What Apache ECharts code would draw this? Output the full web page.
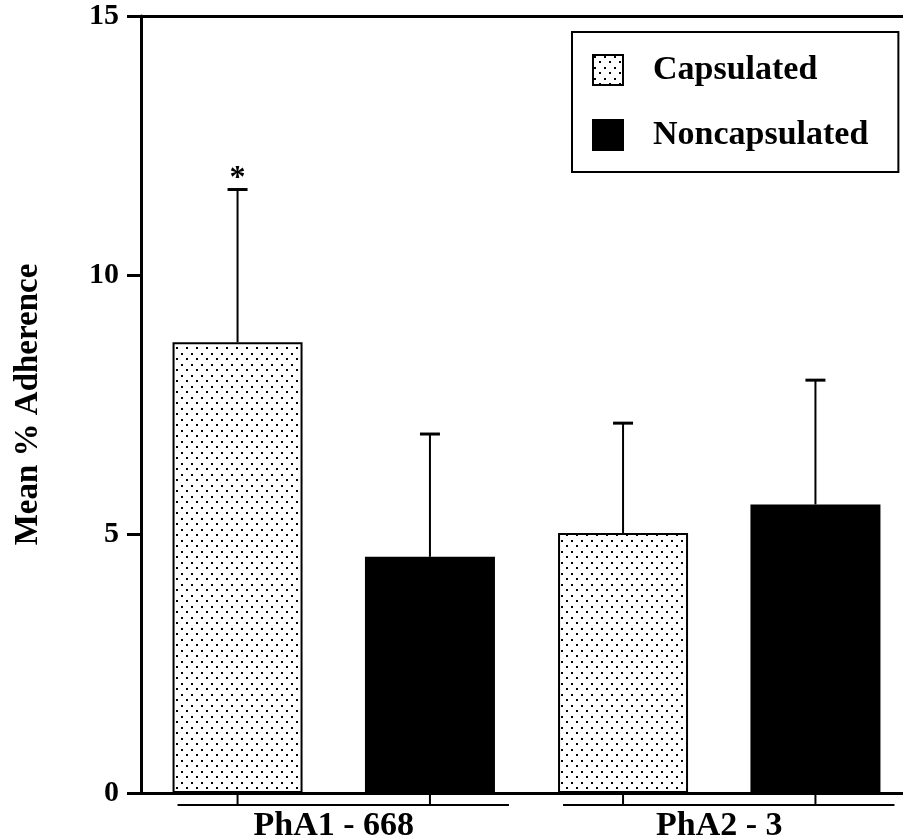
<!DOCTYPE html>
<html>
<head>
<meta charset="utf-8">
<script src="https://cdn.jsdelivr.net/npm/echarts@6/dist/echarts.min.js"></script>
<style>
  html, body { margin: 0; padding: 0; background: #fff; }
  #chart { width: 903px; height: 839px; }
</style>
</head>
<body>
<div id="chart"></div>
<script>
// Mean % adherence (+ SD) of capsulated vs noncapsulated variants of two strains
const strains = ['PhA1 - 668', 'PhA2 - 3'];
const capsulatedMean = [8.70, 5.02];
const capsulatedSD = [2.95, 2.12];
const noncapsulatedMean = [4.56, 5.57];
const noncapsulatedSD = [2.37, 2.40];
const capsulatedMarks = ['*', ''];
const noncapsulatedMarks = ['', ''];
const yMin = 0, yMax = 15, yStep = 5;

const SERIF = '"Liberation Serif", "Times New Roman", serif';
const BAR_W = 130;
const BAR_GAP = 0.48;

// stippled fill used for the capsulated bars
function stipple() {
  const c = document.createElement('canvas');
  c.width = 10; c.height = 11;
  const g = c.getContext('2d');
  g.fillStyle = '#fff';
  g.fillRect(0, 0, 10, 11);
  g.fillStyle = '#000';
  g.fillRect(1, 1, 2, 2);
  g.fillRect(6, 6, 2, 2);
  return c;
}

// horizontal offset of bar i from its category centre
function barOffset(i) {
  const total = 2 * BAR_W + BAR_GAP * BAR_W;
  return -total / 2 + BAR_W / 2 + i * BAR_W * (1 + BAR_GAP);
}

function errorSeries(mean, sd, marks, idx) {
  return {
    type: 'custom',
    z: 5,
    clip: false,
    silent: true,
    data: strains.map((s, k) => [k, mean[k], mean[k] + sd[k]]),
    renderItem(params, api) {
      const base = api.coord([api.value(0), api.value(1)]);
      const top = api.coord([api.value(0), api.value(2)]);
      const x = base[0] + barOffset(idx);
      const children = [
        { type: 'line', shape: { x1: x, y1: base[1], x2: x, y2: top[1] },
          style: { stroke: '#000', lineWidth: 2 } },
        { type: 'line', shape: { x1: x - 10, y1: top[1], x2: x + 10, y2: top[1] },
          style: { stroke: '#000', lineWidth: 3 } }
      ];
      const mark = marks[params.dataIndex];
      if (mark) {
        children.push({
          type: 'text',
          style: {
            x: x, y: top[1] - 11, text: mark,
            fill: '#000', align: 'center', verticalAlign: 'middle',
            font: 'bold 32px ' + SERIF
          }
        });
      }
      return { type: 'group', children };
    }
  };
}

// bracket under each strain with ticks at the bar centres
const bracketSeries = {
  type: 'custom',
  z: 4,
  clip: false,
  silent: true,
  data: strains.map((s, k) => [k, 0]),
  renderItem(params, api) {
    const p = api.coord([api.value(0), 0]);
    const y = p[1] + 12;
    const c0 = p[0] + barOffset(0);
    const c1 = p[0] + barOffset(1);
    const st = { stroke: '#000', lineWidth: 2 };
    return {
      type: 'group',
      children: [
        { type: 'line', shape: { x1: c0 - BAR_W / 2 + 5, y1: y, x2: c1 + BAR_W / 2 + 14, y2: y }, style: st },
        { type: 'line', shape: { x1: c0, y1: p[1], x2: c0, y2: y }, style: st },
        { type: 'line', shape: { x1: c1, y1: p[1], x2: c1, y2: y }, style: st }
      ]
    };
  }
};

const chart = echarts.init(document.getElementById('chart'), null, { renderer: 'canvas' });

chart.setOption({
  backgroundColor: '#fff',
  animation: false,
  grid: { left: 141, top: 16, width: 771, height: 777, outerBoundsMode: 'none', containLabel: false },
  legend: {
    data: ['Capsulated', 'Noncapsulated'],
    orient: 'vertical',
    left: 572,
    top: 32,
    itemWidth: 30,
    itemHeight: 30,
    itemGap: 31,
    icon: 'rect',
    selectedMode: false,
    borderColor: '#000',
    borderWidth: 2,
    padding: [21, 30, 20, 20],
    textStyle: {
      fontFamily: SERIF, fontWeight: 'bold', fontSize: 34, color: '#000',
      lineHeight: 22, padding: [0, 0, 12, 25]
    }
  },
  xAxis: [
    {
      type: 'category',
      data: strains,
      axisLine: { lineStyle: { color: '#000', width: 3 } },
      axisTick: { show: false },
      axisLabel: {
        color: '#000', fontFamily: SERIF, fontWeight: 'bold', fontSize: 34, margin: 16
      }
    },
    {
      type: 'category',
      data: strains,
      position: 'top',
      axisLine: { lineStyle: { color: '#000', width: 3 } },
      axisTick: { show: false },
      axisLabel: { show: false }
    }
  ],
  yAxis: {
    type: 'value',
    min: yMin,
    max: yMax,
    interval: yStep,
    name: 'Mean % Adherence',
    nameLocation: 'middle',
    nameRotate: 90,
    nameGap: 96,
    nameTextStyle: { color: '#000', fontFamily: SERIF, fontWeight: 'bold', fontSize: 33 },
    axisLine: { show: true, lineStyle: { color: '#000', width: 3 } },
    axisTick: { show: true, length: 14, lineStyle: { color: '#000', width: 3 } },
    splitLine: { show: false },
    axisLabel: {
      color: '#000', fontFamily: SERIF, fontWeight: 'bold', fontSize: 30, margin: 22
    }
  },
  series: [
    {
      name: 'Capsulated',
      type: 'bar',
      barWidth: BAR_W,
      barGap: (BAR_GAP * 100) + '%',
      data: capsulatedMean,
      itemStyle: {
        color: { image: stipple(), repeat: 'repeat' },
        borderColor: '#000',
        borderWidth: 2
      }
    },
    {
      name: 'Noncapsulated',
      type: 'bar',
      barWidth: BAR_W,
      barGap: (BAR_GAP * 100) + '%',
      data: noncapsulatedMean,
      itemStyle: { color: '#000', borderColor: '#000', borderWidth: 2 }
    },
    errorSeries(capsulatedMean, capsulatedSD, capsulatedMarks, 0),
    errorSeries(noncapsulatedMean, noncapsulatedSD, noncapsulatedMarks, 1),
    bracketSeries
  ]
});
</script>
</body>
</html>
